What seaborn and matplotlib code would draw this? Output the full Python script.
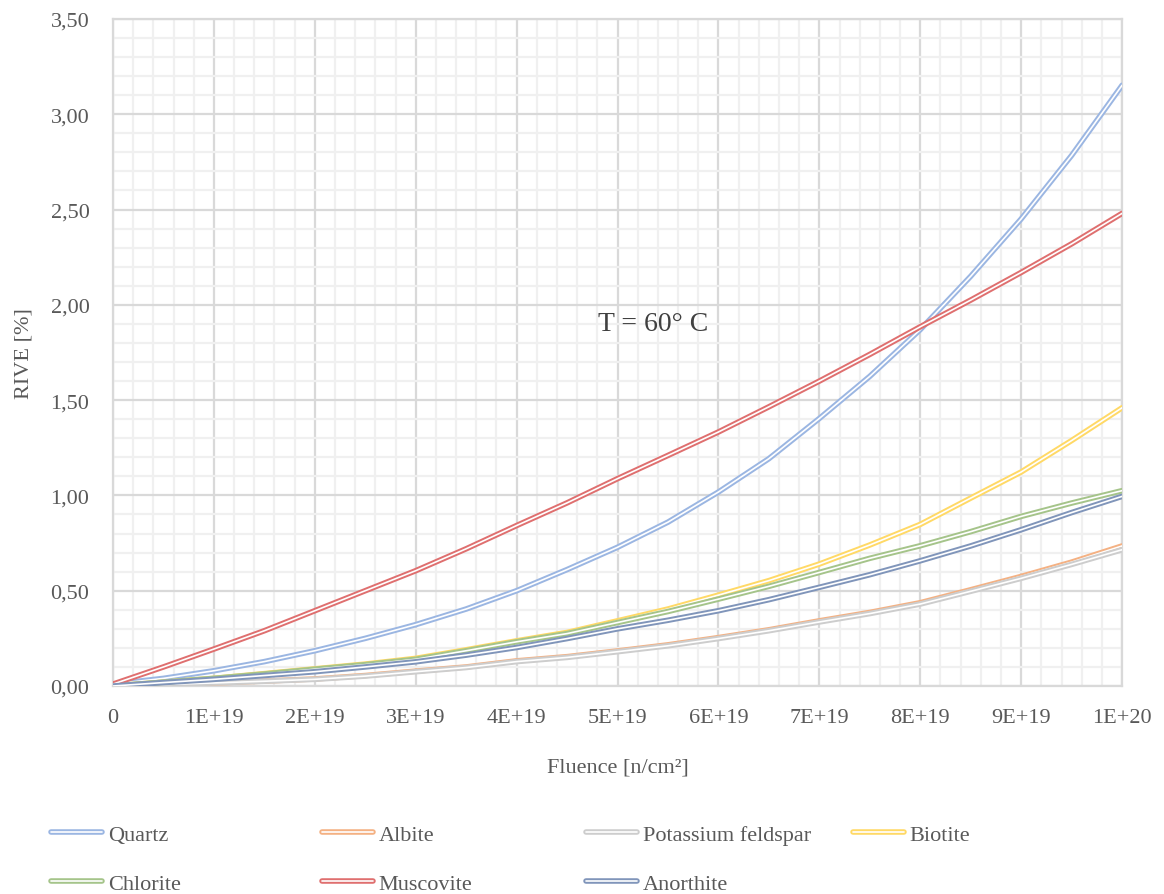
import numpy as np
import pandas as pd
import matplotlib
matplotlib.use("Agg")
import matplotlib.pyplot as plt
import matplotlib.patheffects as pe
from matplotlib.ticker import MultipleLocator, FuncFormatter
import seaborn as sns

fluence = [0, 5e18, 1e19, 1.5e19, 2e19, 2.5e19, 3e19, 3.5e19, 4e19, 4.5e19, 5e19,
           5.5e19, 6e19, 6.5e19, 7e19, 7.5e19, 8e19, 8.5e19, 9e19, 9.5e19, 1e20]
quartz = [0.01, 0.04, 0.08, 0.128, 0.185, 0.25, 0.322, 0.404, 0.50, 0.611, 0.728,
          0.86, 1.018, 1.193, 1.404, 1.625, 1.87, 2.15, 2.451, 2.784, 3.152]
albite = [0.0, 0.008, 0.016, 0.026, 0.037, 0.055, 0.078, 0.10, 0.132, 0.154, 0.184,
          0.216, 0.254, 0.295, 0.342, 0.386, 0.437, 0.505, 0.575, 0.65, 0.735]
kfeld = [0.0, 0.008, 0.016, 0.025, 0.035, 0.052, 0.075, 0.097, 0.128, 0.15, 0.18,
         0.211, 0.249, 0.29, 0.336, 0.38, 0.43, 0.497, 0.565, 0.638, 0.715]
biotite = [0.0, 0.02, 0.04, 0.065, 0.09, 0.115, 0.145, 0.19, 0.237, 0.281, 0.342,
           0.404, 0.477, 0.553, 0.64, 0.74, 0.848, 0.986, 1.123, 1.288, 1.46]
chlorite = [0.0, 0.02, 0.04, 0.063, 0.088, 0.112, 0.14, 0.185, 0.232, 0.275, 0.333,
            0.391, 0.456, 0.523, 0.596, 0.67, 0.736, 0.81, 0.89, 0.96, 1.025]
muscovite = [0.01, 0.10, 0.194, 0.29, 0.395, 0.50, 0.605, 0.72, 0.842, 0.961, 1.088,
             1.21, 1.333, 1.465, 1.60, 1.74, 1.885, 2.025, 2.17, 2.32, 2.48]
anorthite = [0.0, 0.018, 0.035, 0.055, 0.075, 0.1, 0.127, 0.162, 0.202, 0.249, 0.30,
             0.345, 0.395, 0.453, 0.518, 0.584, 0.657, 0.735, 0.82, 0.91, 0.995]

names = ["Quartz", "Albite", "Potassium feldspar", "Biotite", "Chlorite", "Muscovite", "Anorthite"]
series = [quartz, albite, kfeld, biotite, chlorite, muscovite, anorthite]
colors = ["#9BB6E2", "#F4B183", "#CDCDCD", "#FFD966", "#A5C48A", "#DF6F6F", "#8095BA"]

rows = []
for n, s in zip(names, series):
    for x, v in zip(fluence, s):
        rows.append({"Fluence": x, "RIVE": v, "Mineral": n})
df = pd.DataFrame(rows)

sns.set_theme(style="white")
plt.rcParams["font.family"] = ["Liberation Serif", "DejaVu Serif"]

fig = plt.figure(figsize=(11.64, 8.95), dpi=100)
ax = fig.add_axes([0.0971, 0.2324, 0.8669, 0.7453])

sns.lineplot(data=df, x="Fluence", y="RIVE", hue="Mineral", hue_order=names,
             palette=dict(zip(names, colors)), ax=ax, linewidth=4.0, legend=False, zorder=3)

for line, c in zip(ax.get_lines(), colors):
    line.set_color("white")
    line.set_linewidth(1.2)
    line.set_solid_joinstyle("round")
    line.set_path_effects([pe.Stroke(linewidth=4.0, foreground=c), pe.Normal()])

ax.set_xlim(0, 1e20)
ax.set_ylim(0, 3.5)
ax.xaxis.set_major_locator(MultipleLocator(1e19))
ax.xaxis.set_minor_locator(MultipleLocator(2e18))
ax.yaxis.set_major_locator(MultipleLocator(0.5))
ax.yaxis.set_minor_locator(MultipleLocator(0.1))

def xfmt(v, p):
    if v < 1e15:
        return "0" if abs(v) < 1e15 else ""
    e = int(np.floor(np.log10(v) + 1e-9))
    m = v / 10**e
    return f"{m:.0f}E+{e}"

ax.xaxis.set_major_formatter(FuncFormatter(xfmt))
ax.yaxis.set_major_formatter(FuncFormatter(lambda v, p: f"{v:.2f}".replace(".", ",")))

ax.grid(which="minor", color="#F0F0F0", linewidth=1.6, zorder=0)
ax.grid(which="major", color="#D9D9D9", linewidth=1.6, zorder=1)
ax.set_axisbelow(True)
for s in ax.spines.values():
    s.set_color("#D9D9D9")
    s.set_linewidth(1.6)
ax.tick_params(which="both", length=0, labelsize=16, colors="#595959")
ax.tick_params(axis="y", pad=17)
ax.tick_params(axis="x", pad=16)

ax.set_xlabel("Fluence [n/cm²]", fontsize=16, color="#595959", labelpad=22)
ax.set_ylabel("RIVE [%]", fontsize=16, color="#595959", labelpad=12)

ax.text(0.535e20, 1.90, "T = 60° C", fontsize=20, color="#404040", ha="center", va="center")

handles = {}
for n, c in zip(names, colors):
    h, = ax.plot([], [], color="white", linewidth=1.2, label=n)
    h.set_path_effects([pe.Stroke(linewidth=4.0, foreground=c), pe.Normal()])
    handles[n] = h

columns = [["Quartz", "Chlorite"], ["Albite", "Muscovite"],
           ["Potassium feldspar", "Anorthite"], ["Biotite"]]
col_x = [51, 322, 586, 853]
for cx, col in zip(col_x, columns):
    leg = fig.legend(handles=[handles[n] for n in col], labels=col, loc="upper left",
                     bbox_to_anchor=(cx / 1164, 1 - 825 / 895), ncol=1, frameon=False,
                     fontsize=16, handlelength=2.3, handletextpad=0.25, borderpad=0,
                     borderaxespad=0, labelspacing=1.3)
    for t in leg.get_texts():
        t.set_color("#595959")

fig.savefig("out.png", dpi=100)
